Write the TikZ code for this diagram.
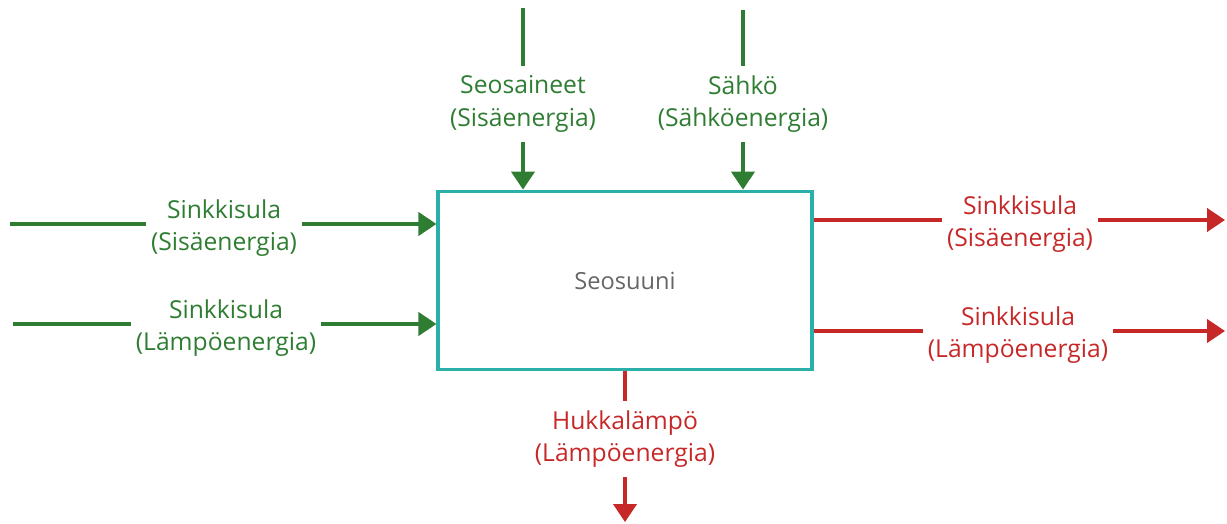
\documentclass[tikz,border=0pt]{standalone}
\usepackage{fontspec}
\setmainfont{Open Sans}
\usetikzlibrary{arrows.meta}
\definecolor{inflow}{HTML}{2E7D32}
\definecolor{outflow}{HTML}{C62828}
\definecolor{frame}{HTML}{2AB0A8}
\definecolor{boxtext}{HTML}{666666}
\begin{document}
\begin{tikzpicture}[x=0.75pt,y=-0.75pt,
  flowlabel/.style={align=center,inner xsep=3.5pt,inner ysep=6.7pt,
    font=\fontsize{18.5}{24.5}\selectfont},
  inlabel/.style={flowlabel,text=inflow},
  outlabel/.style={flowlabel,text=outflow},
  inline/.style={draw=inflow,line width=2.4pt},
  outline/.style={draw=outflow,line width=2.4pt},
  tip/.style={-{Triangle[length=13.5pt,width=17.5pt]}},
  unitbox/.style={draw=frame,line width=2.4pt,minimum width=280.5pt,
    minimum height=134pt,inner sep=0pt,text=boxtext,
    font=\fontsize{17.7}{24}\selectfont}]
\useasboundingbox (0,0) rectangle (1227,524);

% process box
\node[unitbox] (box) at (625,280.5) {\raisebox{-1.5pt}{Seosuuni}};

% labels of incoming flows
\node[inlabel] (zinc1) at (224,228) {Sinkkisula\\(Sisäenergia)};
\node[inlabel] (zinc2) at (226,328) {Sinkkisula\\(Lämpöenergia)};
\node[inlabel] (alloy) at (523,104) {Seosaineet\\(Sisäenergia)};
\node[inlabel] (power) at (743,104) {Sähkö\\(Sähköenergia)};

% labels of outgoing flows
\node[outlabel] (zout1) at (1020,224) {Sinkkisula\\(Sisäenergia)};
\node[outlabel] (zout2) at (1018,335) {Sinkkisula\\(Lämpöenergia)};
\node[outlabel] (waste) at (625,439) {Hukkalämpö\\(Lämpöenergia)};

% free ends of the flows
\coordinate (zinc1src) at (10,224);
\coordinate (zinc2src) at (13,324);
\coordinate (alloysrc) at (523,8);
\coordinate (powersrc) at (743,10);
\coordinate (zout1dst) at (1225,220);
\coordinate (zout2dst) at (1225,331);
\coordinate (wastedst) at (625,522);

% incoming connectors
\draw[inline] (zinc1src) -- (zinc1.west |- zinc1src);
\draw[inline,tip] (zinc1.east |- zinc1src) -- (box.west |- zinc1src);
\draw[inline] (zinc2src) -- (zinc2.west |- zinc2src);
\draw[inline,tip] (zinc2.east |- zinc2src) -- (box.west |- zinc2src);
\draw[inline] (alloysrc) -- (alloy.north);
\draw[inline,tip] (alloy.south) -- (box.north -| alloy);
\draw[inline] (powersrc) -- (power.north);
\draw[inline,tip] (power.south) -- (box.north -| power);

% outgoing connectors
\draw[outline] (box.east |- zout1dst) -- (zout1.west |- zout1dst);
\draw[outline,tip] (zout1.east |- zout1dst) -- (zout1dst);
\draw[outline] (box.east |- zout2dst) -- (zout2.west |- zout2dst);
\draw[outline,tip] (zout2.east |- zout2dst) -- (zout2dst);
\draw[outline] (box.south) -- (waste.north);
\draw[outline,tip] (waste.south) -- (wastedst);
\end{tikzpicture}
\end{document}
